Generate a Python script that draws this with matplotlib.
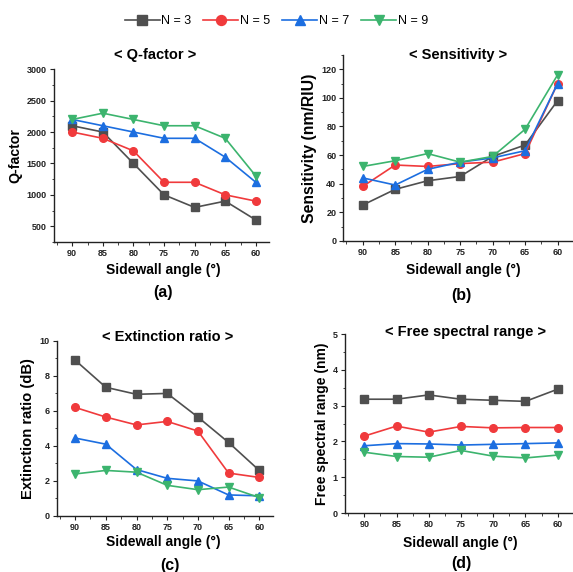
import numpy as np
import matplotlib
matplotlib.use("Agg")
import matplotlib.pyplot as plt
from matplotlib.ticker import MultipleLocator, AutoMinorLocator

plt.rcParams['font.family'] = ['Liberation Sans', 'DejaVu Sans']

angles = [90, 85, 80, 75, 70, 65, 60]
labels = ['N = 3', 'N = 5', 'N = 7', 'N = 9']
colors = ['#4f4f4f', '#f03a3c', '#1c6ee0', '#3cb46e']
markers = ['s', 'o', '^', 'v']

q_factor = [
    [2100, 2000, 1500, 1000, 800, 900, 600],
    [2000, 1900, 1700, 1200, 1200, 1000, 900],
    [2200, 2100, 2000, 1900, 1900, 1600, 1200],
    [2200, 2300, 2200, 2100, 2100, 1900, 1300],
]
sensitivity = [
    [25, 36, 42, 45, 59, 67, 98],
    [38, 53, 52, 54, 55, 61, 110],
    [44, 39, 50, 55, 58, 63, 110],
    [52, 56, 61, 55, 59, 78, 116],
]
extinction = [
    [8.9, 7.35, 6.95, 7.0, 5.65, 4.2, 2.6],
    [6.2, 5.65, 5.2, 5.4, 4.85, 2.45, 2.2],
    [4.45, 4.1, 2.65, 2.15, 2.0, 1.2, 1.15],
    [2.4, 2.6, 2.5, 1.75, 1.5, 1.65, 1.05],
]
fsr = [
    [3.18, 3.18, 3.3, 3.18, 3.15, 3.12, 3.46],
    [2.15, 2.43, 2.26, 2.42, 2.38, 2.39, 2.39],
    [1.88, 1.94, 1.93, 1.9, 1.92, 1.94, 1.96],
    [1.7, 1.58, 1.56, 1.75, 1.59, 1.54, 1.62],
]

fig = plt.figure(figsize=(5.73, 5.72), dpi=100)

# rect, data, ylim, ymajor, ylabel, ylabel size, title, title pos, xlabel pos, panel label, pos
panels = [
    ([0.094, 0.577, 0.376, 0.302], q_factor, (250, 3000), 500, 'Q-factor', 10.2,
     '< Q-factor >', (0.27, 0.904), (0.285, 0.528), '(a)', (0.285, 0.489)),
    ([0.599, 0.579, 0.399, 0.325], sensitivity, (0, 130), 20, 'Sensitivity (nm/RIU)', 11.3,
     '< Sensitivity >', (0.80, 0.904), (0.808, 0.528), '(b)', (0.806, 0.484)),
    ([0.099, 0.098, 0.377, 0.306], extinction, (0, 10), 2, 'Extinction ratio (dB)', 10.6,
     '< Extinction ratio >', (0.293, 0.411), (0.285, 0.052), '(c)', (0.297, 0.012)),
    ([0.602, 0.103, 0.396, 0.313], fsr, (0, 5), 1, 'Free spectral range (nm)', 10.0,
     '< Free spectral range >', (0.812, 0.420), (0.803, 0.050), '(d)', (0.805, 0.015)),
]

for rect, data, ylim, ymaj, ylabel, ylsize, title, tpos, xlpos, plabel, ppos in panels:
    ax = fig.add_axes(rect)
    for i in range(4):
        ax.plot(angles, data[i], color=colors[i], marker=markers[i],
                markersize=5.5, linewidth=1.2, label=labels[i])
    ax.set_xlim(93, 57.8)
    ax.set_ylim(*ylim)
    ax.set_xticks(angles)
    ax.xaxis.set_minor_locator(MultipleLocator(2.5))
    ax.yaxis.set_major_locator(MultipleLocator(ymaj))
    ax.yaxis.set_minor_locator(AutoMinorLocator(2))
    ax.spines['top'].set_visible(False)
    ax.spines['right'].set_visible(False)
    for s in ['left', 'bottom']:
        ax.spines[s].set_linewidth(1.0)
        ax.spines[s].set_color('#222222')
    ax.tick_params(which='major', direction='out', length=3, width=0.8,
                   labelsize=6.5, pad=2, colors='#222222')
    ax.tick_params(which='minor', direction='out', length=1.8, width=0.6, colors='#222222')
    for t in ax.get_xticklabels() + ax.get_yticklabels():
        t.set_fontweight('bold')
    ax.set_ylabel(ylabel, fontsize=ylsize, fontweight='bold', labelpad=3)
    fig.text(tpos[0], tpos[1], title, ha='center', va='center',
             fontsize=10.5, fontweight='bold')
    fig.text(xlpos[0], xlpos[1], 'Sidewall angle (°)', ha='center', va='center',
             fontsize=10, fontweight='bold')
    fig.text(ppos[0], ppos[1], plabel, ha='center', va='center',
             fontsize=11.5, fontweight='bold')

handles, labs = ax.get_legend_handles_labels()
fig.legend(handles, labs, loc='center', bbox_to_anchor=(0.482, 0.963), ncol=4,
           frameon=False, fontsize=9, handlelength=2.8, handletextpad=0.1,
           columnspacing=1.0, markerscale=1.3)

fig.savefig('out.png', dpi=100)
